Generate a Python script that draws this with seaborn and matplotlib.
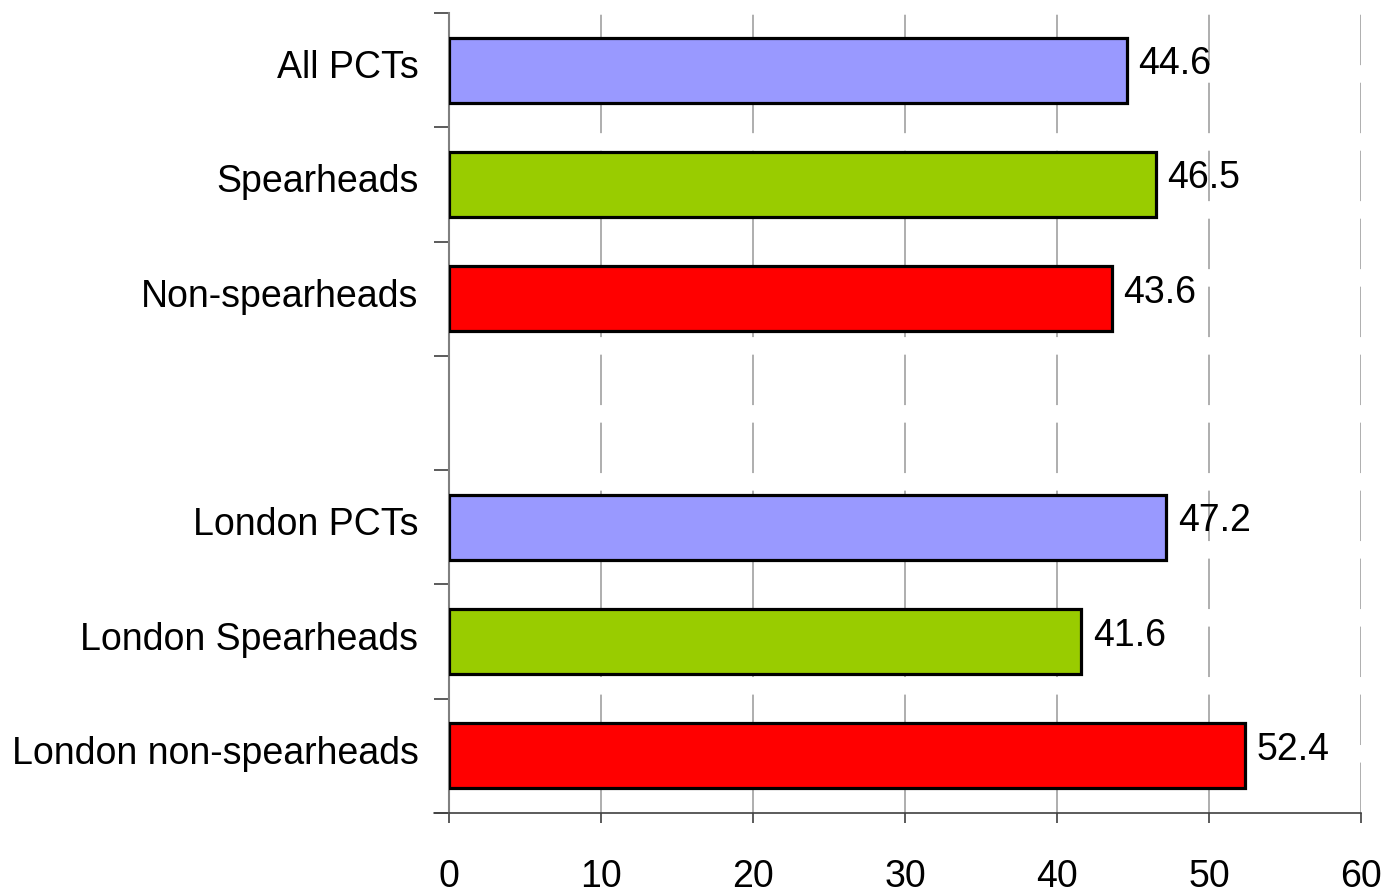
import matplotlib
matplotlib.use("Agg")
import matplotlib.pyplot as plt
import matplotlib.transforms as mtransforms
import seaborn as sns
import pandas as pd
import numpy as np
from matplotlib.lines import Line2D

categories = ["All PCTs", "Spearheads", "Non-spearheads", "",
              "London PCTs", "London Spearheads", "London non-spearheads"]
values = [44.6, 46.5, 43.6, np.nan, 47.2, 41.6, 52.4]
colors = ["#9999FF", "#99CC00", "#FF0000", "#FFFFFF",
          "#9999FF", "#99CC00", "#FF0000"]
x_ticks = [0, 10, 20, 30, 40, 50, 60]

sns.set_theme(style="white")
plt.rcParams["font.family"] = ["Liberation Sans", "DejaVu Sans"]

df = pd.DataFrame({"group": categories, "value": values})

fig = plt.figure(figsize=(13.88, 8.94), dpi=100)
ax = fig.add_axes([0.3235, 0.0906, 0.657, 0.8949])

sns.barplot(data=df, x="value", y="group", hue="group", palette=colors,
            order=categories, hue_order=categories, legend=False,
            orient="h", width=0.57, edgecolor="black", linewidth=2.3,
            saturation=1, ax=ax, zorder=3)

ax.set_xlim(0, 60)
ax.set_ylim(len(categories) - 0.5, -0.5)
ax.set_xlabel("")
ax.set_ylabel("")

# dashed vertical gridlines
for xv in x_ticks[1:]:
    ax.axvline(xv, color="#999999", linewidth=1.1,
               linestyle=(0, (33, 11.5)), zorder=1)

# spines
for s in ["top", "right"]:
    ax.spines[s].set_visible(False)
ax.spines["left"].set_color("#808080")
ax.spines["left"].set_linewidth(1.5)
ax.spines["bottom"].set_color("#404040")
ax.spines["bottom"].set_linewidth(1.2)
ax.spines["bottom"].set_zorder(4)

# bottom axis line extends a little past the y axis
ax.add_line(Line2D([-1.0, 0], [len(categories) - 0.5] * 2, color="#404040",
                   linewidth=1.2, clip_on=False))

# x ticks
ax.set_xticks(x_ticks)
ax.set_xticklabels([str(t) for t in x_ticks])
ax.tick_params(axis="x", direction="out", length=7, width=1.2,
               color="#404040", pad=26, labelsize=27, labelcolor="black",
               bottom=True)

# y labels at centers, tick marks at category boundaries
ax.set_yticks(range(len(categories)))
ax.set_yticklabels(categories)
ax.tick_params(axis="y", which="major", length=0, pad=22, labelsize=27,
               labelcolor="black")
ax.set_yticks(np.arange(-0.5, len(categories) + 0.5, 1.0), minor=True)
ax.tick_params(axis="y", which="minor", direction="out", length=11,
               width=1.2, color="#404040", left=True)

# nudge category labels slightly upward
lift = mtransforms.ScaledTranslation(0, 6 / 100, fig.dpi_scale_trans)
for lbl in ax.get_yticklabels():
    lbl.set_transform(lbl.get_transform() + lift)

# value labels
for i, v in enumerate(values):
    if np.isnan(v):
        continue
    ax.text(v + 0.75, i, f"{v:.1f}", va="center", ha="left",
            fontsize=27, color="black", zorder=5,
            transform=ax.transData + lift)

fig.savefig("out.png", dpi=100, facecolor="white")
